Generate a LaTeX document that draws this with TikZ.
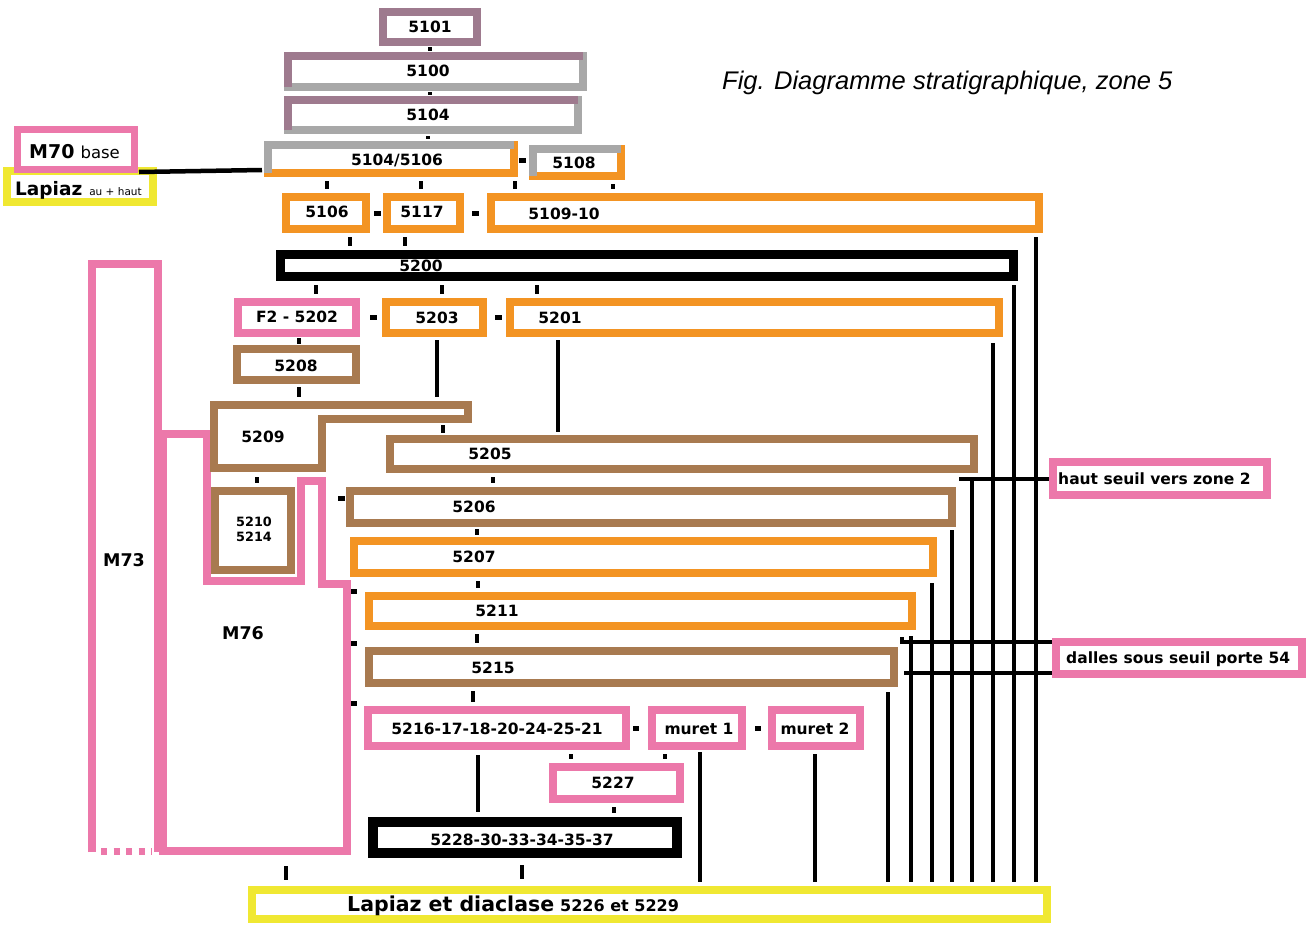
\documentclass[tikz,border=0pt]{standalone}
\usepackage{fontspec}
\setmainfont{DejaVu Sans}
\newfontfamily\titlefont{Liberation Sans}
\usetikzlibrary{calc}
\definecolor{mauve}{RGB}{158,122,142}
\definecolor{greyc}{RGB}{168,168,168}
\definecolor{orangec}{RGB}{243,148,35}
\definecolor{brownc}{RGB}{168,122,80}
\definecolor{pinkc}{RGB}{236,120,170}
\definecolor{yellowc}{RGB}{240,232,50}
% box: [line width] name colour x1 y1 x2 y2 (outer edges, image pixels)
\newcommand\bx[7][8]{\node[draw=#3,line width=#1pt,inner sep=0pt,minimum width={#6-#4-#1},minimum height={#7-#5-#1}] (#2) at ({(#4+#6)/2},{(#5+#7)/2}) {};}
% tick: [gap] x upper-node lower-node
\newcommand\tk[4][4]{\draw[tick] ($(#3.south -| #2,0)+(0,#1)$) -- ($(#4.north -| #2,0)+(0,-#1)$);}
% overlay of top and left sides
\newcommand\tl[2]{\draw[#2,line width=8pt] ($(#1.south west)+(4,-4)$) -- ($(#1.north west)+(4,4)$) -- ($(#1.north east)+(-4,4)$);}
\begin{document}
\begin{tikzpicture}[x=1pt,y=-1pt,
  lab/.style={inner sep=0pt,font=\fontsize{15.5}{18}\selectfont\bfseries},
  big/.style={inner sep=0pt,font=\fontsize{17.5}{20}\selectfont\bfseries},
  tick/.style={line width=4.5pt},
  vl/.style={line width=4pt},
  hl/.style={line width=4.5pt},
  dsh/.style={line width=5pt}]
\useasboundingbox (0,0) rectangle (1314,924);
\fill[white] (0,0) rectangle (1314,924);

% title
\node[anchor=west,inner sep=0pt,font=\titlefont\itshape\fontsize{25.5}{28}\selectfont] (title) at (722,83) {Fig. Diagramme stratigraphique, zone 5};

% M73 and M76 walls
\draw[pinkc,line width=8pt] (91.5,852) -- (91.5,264) -- (158,264) -- (158,852);
\draw[pinkc,line width=7pt,dash pattern=on 6pt off 6.5pt] (101,851) -- (152,851);
\draw[pinkc,line width=8pt] (163,433.5) -- (207,433.5) -- (207,580.5) -- (301,580.5) -- (301,481) -- (322,481) -- (322,584) -- (346.5,584) -- (346.5,851) -- (163,851) -- cycle;
\node[big] (tM73) at (124,560) {M73};
\node[big] (tM76) at (243,633) {M76};

% 5209
\draw[brownc,line width=8pt] (214,405) -- (468,405) -- (468,419) -- (322,419) -- (322,468) -- (214,468) -- cycle;
\coordinate (c5209n) at (214,401);
\coordinate (c5209a) at (468,423);
\coordinate (c5209s) at (214,472);
\node[lab] (t5209) at (263,437) {5209};

% boxes
\bx{b5101}{mauve}{379}{8}{481}{46}
\bx{b5100}{greyc}{284}{52}{587}{91}\tl{b5100}{mauve}
\bx{b5104}{greyc}{284}{96}{582}{134}\tl{b5104}{mauve}
\bx{b5146}{orangec}{264}{141}{518}{177}\tl{b5146}{greyc}
\bx{b5108}{orangec}{529}{145}{625}{180}\tl{b5108}{greyc}
\bx{b5106}{orangec}{282}{193}{370}{233}
\bx{b5117}{orangec}{383}{193}{464}{233}
\bx{b5109}{orangec}{487}{193}{1043}{233}
\bx[9]{b5200}{black}{276}{250}{1018}{281}
\bx{bF2}{pinkc}{234}{298}{360}{337}
\bx{b5203}{orangec}{382}{298}{487}{337}
\bx{b5201}{orangec}{506}{298}{1003}{337}
\bx{b5208}{brownc}{233}{345}{360}{384}
\bx{b5210}{brownc}{211}{487}{295}{574}
\bx{b5205}{brownc}{386}{435}{978}{473}
\bx{b5206}{brownc}{346}{487}{956}{527}
\bx{b5207}{orangec}{350}{537}{937}{577}
\bx{b5211}{orangec}{365}{592}{916}{630}
\bx{b5215}{brownc}{365}{647}{898}{687}
\bx{b5216}{pinkc}{364}{706}{630}{750}
\bx{bm1}{pinkc}{648}{706}{746}{750}
\bx{bm2}{pinkc}{768}{706}{864}{750}
\bx{b5227}{pinkc}{549}{763}{684}{803}
\bx[10]{b5228}{black}{368}{817}{682}{858}
\bx{blap}{yellowc}{248}{886}{1051}{923}
\bx{bhaut}{pinkc}{1049}{458}{1271}{499}
\bx{bdal}{pinkc}{1052}{638}{1306}{678}
\bx{blapz}{yellowc}{3}{167}{157}{206}
\bx[7]{bm70}{pinkc}{14}{126}{138}{173}

% texts
\node[lab] (t5101) at (430,27) {5101};
\node[lab] (t5100) at (428,71) {5100};
\node[lab] (t5104) at (428,115) {5104};
\node[lab] (t5146) at (397,160) {5104/5106};
\node[lab] (t5108) at (574,163) {5108};
\node[lab] (t5106) at (327,212) {5106};
\node[lab] (t5117) at (422,212) {5117};
\node[lab] (t5109) at (564,214) {5109-10};
\node[lab] (t5200) at (421,266) {5200};
\node[lab] (tF2) at (297,317) {F2 - 5202};
\node[lab] (t5203) at (437,318) {5203};
\node[lab] (t5201) at (560,318) {5201};
\node[lab] (t5208) at (296,366) {5208};
\node[inner sep=0pt,align=center,font=\fontsize{12.8}{15}\selectfont\bfseries] (t5210) at (254,529) {5210\\5214};
\node[lab] (t5205) at (490,454) {5205};
\node[lab] (t5206) at (474,507) {5206};
\node[lab] (t5207) at (474,557) {5207};
\node[lab] (t5211) at (497,611) {5211};
\node[lab] (t5215) at (493,668) {5215};
\node[lab] (t5216) at (497,729) {5216-17-18-20-24-25-21};
\node[lab] (tm1) at (699,729) {muret 1};
\node[lab] (tm2) at (815,729) {muret 2};
\node[lab] (t5227) at (613,783) {5227};
\node[lab] (t5228) at (522,840) {5228-30-33-34-35-37};
\node[lab,anchor=west] (thaut) at (1058,479) {haut seuil vers zone 2};
\node[lab,anchor=west] (tdal) at (1066,659) {dalles sous seuil porte 54};
\node[anchor=west,inner sep=0pt] (tm70) at (29,152) {{\fontsize{19}{20}\selectfont\bfseries M70}\hspace{6pt}{\fontsize{16.5}{18}\selectfont base}};
\node[anchor=west,inner sep=0pt] (tlapz) at (15,190) {{\fontsize{18.5}{20}\selectfont\bfseries Lapiaz}\hspace{7pt}{\fontsize{10.5}{12}\selectfont au + haut}};
\node[anchor=west,inner sep=0pt] (tlap) at (347,906) {{\fontsize{20.5}{22}\selectfont\bfseries Lapiaz et diaclase}\hspace{6pt}{\fontsize{16}{16}\selectfont\bfseries 5226 et 5229}};

% short ticks
\tk[1]{430}{b5101}{b5100}
\tk[1]{430}{b5100}{b5104}
\tk[2]{428}{b5104}{b5146}
\tk{327}{b5146}{b5106}
\tk{421}{b5146}{b5117}
\tk{515}{b5146}{b5109}
\tk{613}{b5108}{b5109}
\tk{350}{b5106}{b5200}
\tk{405}{b5117}{b5200}
\tk{316}{b5200}{bF2}
\tk{442}{b5200}{b5203}
\tk{537}{b5200}{b5201}
\tk[1]{299}{bF2}{b5208}
\draw[tick] ($(b5208.south -| 299,0)+(0,3)$) -- ($(c5209n -| 299,0)+(0,-4)$);
\draw[tick] ($(c5209a -| 443,0)+(0,2)$) -- ($(b5205.north -| 443,0)+(0,-2)$);
\draw[tick] ($(c5209s -| 257,0)+(0,5)$) -- ($(b5210.north -| 257,0)+(0,-4)$);
\tk{493}{b5205}{b5206}
\tk[2]{477}{b5206}{b5207}
\tk{478}{b5207}{b5211}
\tk{477}{b5211}{b5215}
\tk{473}{b5215}{b5216}
\tk{571}{b5216}{b5227}
\tk{665}{bm1}{b5227}
\tk{614}{b5227}{b5228}
\tk[7]{522}{b5228}{blap}
\draw[tick] (286,866) -- ($(blap.north -| 286,0)+(0,-6)$);

% same-level dashes
\draw[dsh] ($(b5146.east |- 0,160)+(1,0)$) -- ($(b5108.west |- 0,160)+(-3,0)$);
\draw[dsh] ($(b5106.east)+(4,0)$) -- ($(b5117.west)+(-2,0)$);
\draw[dsh] ($(b5117.east)+(8,0)$) -- ($(b5109.west |- b5117.east)+(-8,0)$);
\draw[dsh] ($(bF2.east)+(10,0)$) -- ($(b5203.west)+(-5,0)$);
\draw[dsh] ($(b5203.east)+(8,0)$) -- ($(b5201.west)+(-4,0)$);
\draw[dsh] ($(b5216.east)+(3,0)$) -- ($(bm1.west)+(-9,0)$);
\draw[dsh] ($(bm1.east)+(9,0)$) -- ($(bm2.west)+(-7,0)$);
\draw[dsh] ($(b5206.north west)+(-8,11)$) -- ($(b5206.north west)+(-1,11)$);
\draw[dsh] ($(b5211.north west)+(-14,-1)$) -- ($(b5211.north west)+(-8,-1)$);
\draw[dsh] ($(b5215.north west)+(-14,-4)$) -- ($(b5215.north west)+(-8,-4)$);
\draw[dsh] ($(b5216.north west)+(-13,-3)$) -- ($(b5216.north west)+(-7,-3)$);

% long lines
\draw[hl] ($(bm70.south east)+(1,-1)$) -- ($(b5146.west |- 0,170)+(-2,0)$);
\draw[vl] ($(b5203.south -| 437,0)+(0,3)$) -- ($(c5209n -| 437,0)+(0,-4)$);
\draw[vl] ($(b5201.south -| 558,0)+(0,3)$) -- ($(b5205.north -| 558,0)+(0,-3)$);
\draw[vl] ($(b5216.south -| 478,0)+(0,5)$) -- ($(b5228.north -| 478,0)+(0,-5)$);
\draw[vl] ($(bm1.south -| 700,0)+(0,2)$) -- ($(blap.north -| 700,0)+(0,-4)$);
\draw[vl] ($(bm2.south -| 815,0)+(0,4)$) -- ($(blap.north -| 815,0)+(0,-4)$);

\coordinate (hL) at (959,479);
\coordinate (dU) at (900,642);
\coordinate (dL) at (904,673);
\draw[hl] (hL) -- (bhaut.west |- hL);
\draw[hl] (dU) -- (bdal.west |- dU);
\draw[hl] (dL) -- (bdal.west |- dL);
\draw[vl] ($(dU)+(2,0)$) -- ($(dU)+(2,-5)$);

\draw[vl] ($(b5109.south -| 1036,0)+(0,4)$) -- ($(blap.north -| 1036,0)+(0,-4)$);
\draw[vl] ($(b5200.south -| 1014,0)+(0,4)$) -- ($(blap.north -| 1014,0)+(0,-4)$);
\draw[vl] ($(b5201.south -| 993,0)+(0,6)$) -- ($(blap.north -| 993,0)+(0,-4)$);
\draw[vl] ($(hL -| 972,0)+(0,-2)$) -- ($(blap.north -| 972,0)+(0,-4)$);
\draw[vl] ($(b5206.south -| 952,0)+(0,3)$) -- ($(blap.north -| 952,0)+(0,-4)$);
\draw[vl] ($(b5207.south -| 932,0)+(0,6)$) -- ($(blap.north -| 932,0)+(0,-4)$);
\draw[vl] ($(dU -| 911,0)+(0,-6)$) -- ($(blap.north -| 911,0)+(0,-4)$);
\draw[vl] ($(b5215.south -| 888,0)+(0,5)$) -- ($(blap.north -| 888,0)+(0,-4)$);
\end{tikzpicture}
\end{document}
